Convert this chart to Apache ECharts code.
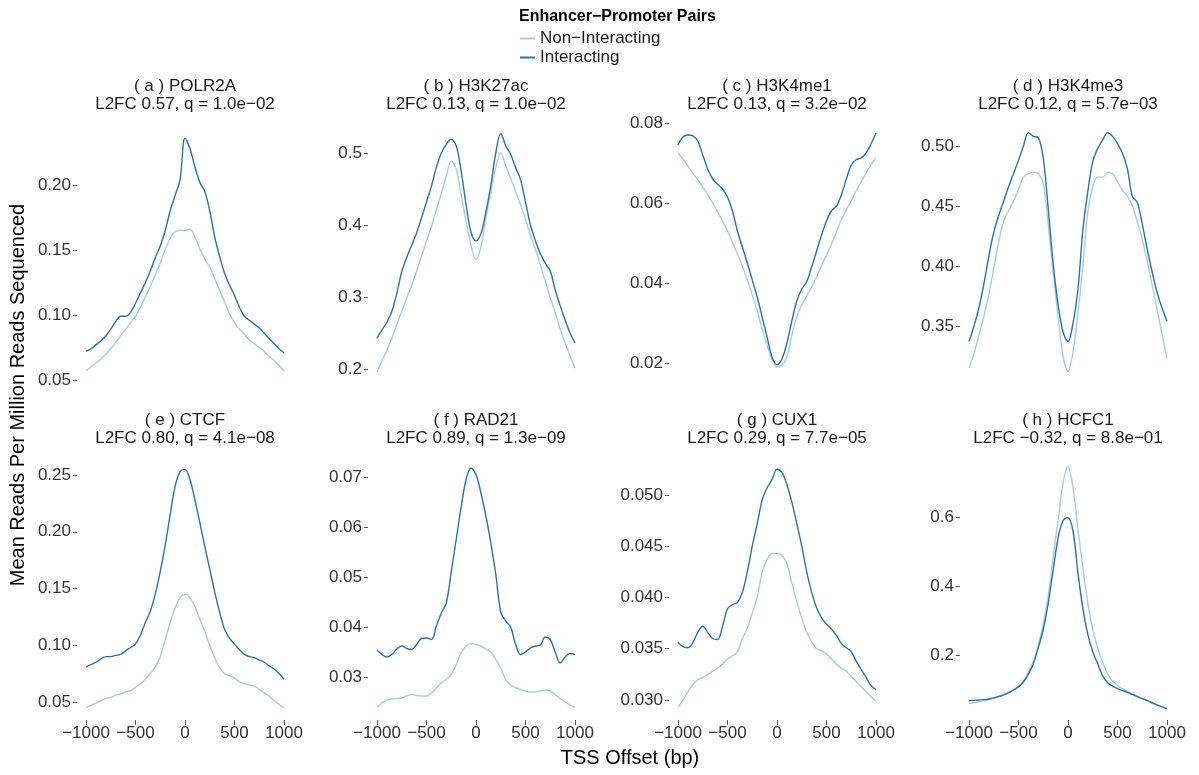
<!DOCTYPE html>
<html>
<head>
<meta charset="utf-8">
<script src="https://cdn.jsdelivr.net/npm/echarts@6/dist/echarts.min.js"></script>
<style>
html,body{margin:0;padding:0;background:#fff;}
#chart{width:1199px;height:775px;}
</style>
</head>
<body>
<div id="chart"></div>
<script>
// ---------- data ----------
const xOffsets = [-1000,-950,-900,-850,-800,-750,-700,-650,-600,-550,-500,-450,-400,-350,-300,-250,-200,-150,-100,-50,0,50,100,150,200,250,300,350,400,450,500,550,600,650,700,750,800,850,900,950,1000];
const xTickLabels = ['−1000','−500','0','500','1000'];

const panelNames = ['( a ) POLR2A','( b ) H3K27ac','( c ) H3K4me1','( d ) H3K4me3','( e ) CTCF','( f ) RAD21','( g ) CUX1','( h ) HCFC1'];
const panelStats = ['L2FC 0.57, q = 1.0e−02','L2FC 0.13, q = 1.0e−02','L2FC 0.13, q = 3.2e−02','L2FC 0.12, q = 5.7e−03','L2FC 0.80, q = 4.1e−08','L2FC 0.89, q = 1.3e−09','L2FC 0.29, q = 7.7e−05','L2FC −0.32, q = 8.8e−01'];

const polr2aNon = [0.057,0.060,0.063,0.066,0.070,0.074,0.079,0.084,0.089,0.094,0.099,0.106,0.114,0.122,0.131,0.140,0.150,0.159,0.164,0.165,0.165,0.166,0.160,0.151,0.143,0.137,0.128,0.119,0.110,0.101,0.094,0.089,0.085,0.081,0.078,0.075,0.072,0.068,0.065,0.061,0.057];
const polr2aInt = [0.072,0.074,0.077,0.080,0.084,0.089,0.095,0.099,0.099,0.102,0.109,0.117,0.125,0.134,0.144,0.153,0.165,0.180,0.192,0.204,0.236,0.228,0.214,0.202,0.195,0.180,0.160,0.145,0.132,0.123,0.115,0.106,0.099,0.096,0.093,0.090,0.086,0.082,0.078,0.074,0.071];

const h3k27acNon = [0.196,0.211,0.226,0.243,0.262,0.280,0.298,0.316,0.336,0.357,0.378,0.398,0.421,0.444,0.468,0.489,0.478,0.442,0.405,0.372,0.352,0.370,0.410,0.445,0.480,0.500,0.482,0.465,0.447,0.428,0.408,0.385,0.366,0.345,0.322,0.299,0.278,0.256,0.236,0.218,0.201];
const h3k27acInt = [0.243,0.254,0.265,0.280,0.305,0.335,0.355,0.372,0.389,0.410,0.432,0.454,0.480,0.500,0.512,0.519,0.510,0.475,0.428,0.390,0.378,0.388,0.418,0.455,0.500,0.527,0.510,0.498,0.480,0.463,0.432,0.400,0.378,0.360,0.347,0.336,0.310,0.288,0.268,0.250,0.236];

const h3k4me1Non = [0.0725,0.0710,0.0692,0.0675,0.0658,0.0640,0.0620,0.0600,0.0578,0.0555,0.0530,0.0502,0.0473,0.0442,0.0408,0.0370,0.0332,0.0285,0.0245,0.0208,0.0190,0.0195,0.0215,0.0270,0.0315,0.0345,0.0368,0.0390,0.0415,0.0443,0.0470,0.0497,0.0527,0.0558,0.0583,0.0605,0.0630,0.0653,0.0675,0.0695,0.0715];
const h3k4me1Int = [0.0745,0.0765,0.0770,0.0768,0.0755,0.0720,0.0685,0.0660,0.0647,0.0635,0.0615,0.0580,0.0530,0.0490,0.0450,0.0408,0.0365,0.0315,0.0265,0.0215,0.0196,0.0210,0.0250,0.0305,0.0355,0.0385,0.0403,0.0440,0.0480,0.0520,0.0555,0.0580,0.0592,0.0620,0.0660,0.0695,0.0708,0.0713,0.0725,0.0748,0.0775];

const h3k4me3Non = [0.315,0.327,0.342,0.358,0.376,0.398,0.420,0.437,0.446,0.454,0.464,0.474,0.477,0.478,0.477,0.469,0.435,0.395,0.358,0.325,0.312,0.328,0.360,0.400,0.445,0.466,0.474,0.474,0.478,0.477,0.470,0.463,0.458,0.450,0.437,0.422,0.404,0.384,0.364,0.343,0.323];
const h3k4me3Int = [0.337,0.350,0.365,0.385,0.408,0.428,0.442,0.454,0.466,0.477,0.488,0.500,0.511,0.508,0.507,0.490,0.448,0.402,0.368,0.345,0.337,0.352,0.380,0.430,0.462,0.487,0.498,0.505,0.511,0.508,0.502,0.494,0.481,0.458,0.453,0.435,0.414,0.395,0.378,0.365,0.354];

const ctcfNon = [0.045,0.047,0.049,0.051,0.053,0.054,0.056,0.057,0.059,0.060,0.063,0.066,0.070,0.075,0.081,0.090,0.105,0.120,0.133,0.142,0.145,0.142,0.134,0.123,0.112,0.100,0.089,0.080,0.075,0.073,0.071,0.068,0.066,0.065,0.064,0.061,0.058,0.055,0.051,0.048,0.045];
const ctcfInt = [0.081,0.083,0.085,0.088,0.090,0.090,0.091,0.092,0.095,0.098,0.101,0.109,0.120,0.130,0.145,0.165,0.188,0.215,0.240,0.253,0.255,0.246,0.228,0.208,0.187,0.167,0.147,0.129,0.114,0.106,0.101,0.096,0.092,0.090,0.089,0.087,0.085,0.082,0.079,0.075,0.070];

const rad21Non = [0.0240,0.0248,0.0254,0.0256,0.0257,0.0258,0.0262,0.0265,0.0263,0.0262,0.0262,0.0268,0.0278,0.0288,0.0295,0.0305,0.0325,0.0348,0.0362,0.0367,0.0365,0.0362,0.0356,0.0350,0.0335,0.0318,0.0295,0.0284,0.0279,0.0275,0.0272,0.0270,0.0270,0.0272,0.0274,0.0272,0.0265,0.0257,0.0250,0.0244,0.0240];
const rad21Int = [0.0354,0.0345,0.0340,0.0345,0.0356,0.0362,0.0357,0.0355,0.0365,0.0377,0.0378,0.0375,0.0402,0.0428,0.0448,0.0510,0.0575,0.0640,0.0695,0.0718,0.0705,0.0668,0.0622,0.0568,0.0505,0.0430,0.0412,0.0400,0.0365,0.0345,0.0350,0.0358,0.0362,0.0364,0.0380,0.0375,0.0350,0.0328,0.0340,0.0347,0.0345];

const cux1Non = [0.0293,0.0300,0.0308,0.0315,0.0320,0.0322,0.0325,0.0328,0.0331,0.0335,0.0340,0.0343,0.0347,0.0360,0.0370,0.0385,0.0400,0.0425,0.0437,0.0443,0.0443,0.0441,0.0433,0.0414,0.0396,0.0380,0.0366,0.0357,0.0350,0.0348,0.0345,0.0340,0.0335,0.0331,0.0328,0.0323,0.0318,0.0313,0.0308,0.0303,0.0299];
const cux1Int = [0.0356,0.0352,0.0351,0.0356,0.0366,0.0372,0.0366,0.0360,0.0359,0.0372,0.0389,0.0393,0.0395,0.0405,0.0425,0.0450,0.0472,0.0495,0.0507,0.0515,0.0525,0.0522,0.0510,0.0493,0.0472,0.0450,0.0425,0.0405,0.0390,0.0380,0.0374,0.0369,0.0363,0.0355,0.0351,0.0347,0.0338,0.0330,0.0322,0.0314,0.0310];

const hcfc1Non = [0.060,0.062,0.065,0.068,0.071,0.075,0.080,0.085,0.091,0.099,0.110,0.125,0.150,0.182,0.228,0.290,0.370,0.484,0.591,0.698,0.745,0.687,0.565,0.455,0.350,0.275,0.220,0.180,0.145,0.125,0.112,0.102,0.095,0.088,0.081,0.074,0.068,0.062,0.056,0.050,0.045];
const hcfc1Int = [0.068,0.069,0.070,0.071,0.073,0.076,0.080,0.085,0.091,0.099,0.108,0.122,0.145,0.175,0.222,0.275,0.350,0.446,0.540,0.590,0.598,0.560,0.440,0.335,0.260,0.210,0.175,0.140,0.120,0.110,0.103,0.097,0.092,0.086,0.080,0.074,0.068,0.062,0.056,0.050,0.045];

const yTicksA = ['0.05','0.10','0.15','0.20'];
const yTicksB = ['0.2','0.3','0.4','0.5'];
const yTicksC = ['0.02','0.04','0.06','0.08'];
const yTicksD = ['0.35','0.40','0.45','0.50'];
const yTicksE = ['0.05','0.10','0.15','0.20','0.25'];
const yTicksF = ['0.03','0.04','0.05','0.06','0.07'];
const yTicksG = ['0.030','0.035','0.040','0.045','0.050'];
const yTicksH = ['0.2','0.4','0.6'];

const seriesNames = ['Non−Interacting','Interacting'];

// ---------- layout / style ----------
const FONT = "'Liberation Sans', Arial, Helvetica, sans-serif";
const COLORS = ['#a6cee3', '#2a73ad'];
const colLeft = [86, 377, 678, 969];
const colWidth = 198;
const rowTop = [121, 457];
const rowHeight = [262, 263];

const panels = [
  {non: polr2aNon, int: polr2aInt, ticks: yTicksA, min: 0.0477, max: 0.2492},
  {non: h3k27acNon, int: h3k27acInt, ticks: yTicksB, min: 0.1806, max: 0.5444},
  {non: h3k4me1Non, int: h3k4me1Int, ticks: yTicksC, min: 0.0150, max: 0.0805},
  {non: h3k4me3Non, int: h3k4me3Int, ticks: yTicksD, min: 0.3025, max: 0.5208},
  {non: ctcfNon, int: ctcfInt, ticks: yTicksE, min: 0.0341, max: 0.2659},
  {non: rad21Non, int: rad21Int, ticks: yTicksF, min: 0.0214, max: 0.0740},
  {non: cux1Non, int: cux1Int, ticks: yTicksG, min: 0.02805, max: 0.0537},
  {non: hcfc1Non, int: hcfc1Int, ticks: yTicksH, min: 0.012, max: 0.774}
];

const grids = [], xAxes = [], yAxes = [], series = [], graphics = [];

panels.forEach((p, i) => {
  const row = Math.floor(i / 4), col = i % 4;
  grids.push({left: colLeft[col], top: rowTop[row], width: colWidth, height: rowHeight[row], containLabel: false});
  const bottomRow = row === 1;
  xAxes.push({
    type: 'value', gridIndex: i, min: -1000, max: 1000, interval: 500, position: 'bottom',
    axisLine: {show: false, onZero: false},
    splitLine: {show: false},
    axisTick: {show: bottomRow, length: 5, lineStyle: {color: '#555', width: 1}},
    axisLabel: {show: bottomRow, margin: 5, color: '#333', fontSize: 17, fontFamily: FONT,
      formatter: v => xTickLabels[[-1000,-500,0,500,1000].indexOf(v)] ?? ''}
  });
  const tickVals = p.ticks.map(Number);
  yAxes.push({
    type: 'value', gridIndex: i, min: p.min, max: p.max, offset: 9, position: 'left',
    axisLine: {show: false, onZero: false},
    splitLine: {show: false},
    axisTick: {show: true, length: 4, customValues: tickVals, lineStyle: {color: '#555', width: 1}},
    axisLabel: {show: true, margin: 6, color: '#333', fontSize: 17, fontFamily: FONT,
      customValues: tickVals,
      formatter: v => { const k = tickVals.findIndex(t => Math.abs(t - v) < 1e-9); return k >= 0 ? p.ticks[k] : ''; }}
  });
  [p.non, p.int].forEach((vals, s) => {
    series.push({
      type: 'line', name: seriesNames[s], xAxisIndex: i, yAxisIndex: i,
      data: xOffsets.map((x, k) => [x, vals[k]]),
      showSymbol: false, symbol: 'none', smooth: 0.35,
      lineStyle: {color: COLORS[s], width: 1.4},
      itemStyle: {color: COLORS[s]},
      z: 2 + s, silent: true
    });
  });
  const cx = colLeft[col] + colWidth / 2;
  const cy = row === 0 ? 95 : 429;
  graphics.push({
    type: 'text', x: cx, y: cy,
    style: {text: panelNames[i] + '\n' + panelStats[i], fontSize: 17, fontFamily: FONT, fill: '#1a1a1a',
      textAlign: 'center', textVerticalAlign: 'middle', lineHeight: 18}
  });
});

graphics.push({
  type: 'text', x: 519, y: 17,
  style: {text: 'Enhancer−Promoter Pairs', fontSize: 16, fontWeight: 'bold', fontFamily: FONT, fill: '#000',
    textAlign: 'left', textVerticalAlign: 'middle'}
});
graphics.push({
  type: 'text', x: 18, y: 395, rotation: Math.PI / 2,
  style: {text: 'Mean Reads Per Million Reads Sequenced', fontSize: 20, fontFamily: FONT, fill: '#000',
    textAlign: 'center', textVerticalAlign: 'middle'}
});
graphics.push({
  type: 'text', x: 630, y: 758,
  style: {text: 'TSS Offset (bp)', fontSize: 20, fontFamily: FONT, fill: '#000',
    textAlign: 'center', textVerticalAlign: 'middle'}
});

const chart = echarts.init(document.getElementById('chart'), null, {renderer: 'canvas'});
chart.setOption({
  animation: false,
  backgroundColor: '#fff',
  legend: {
    data: seriesNames, orient: 'vertical', left: 515, top: 24,
    icon: 'rect', itemWidth: 15, itemHeight: 2, itemGap: 0,
    textStyle: {fontSize: 17, fontFamily: FONT, color: '#1a1a1a', lineHeight: 19},
    selectedMode: false
  },
  grid: grids, xAxis: xAxes, yAxis: yAxes, series: series, graphic: graphics
});
</script>
</body>
</html>
